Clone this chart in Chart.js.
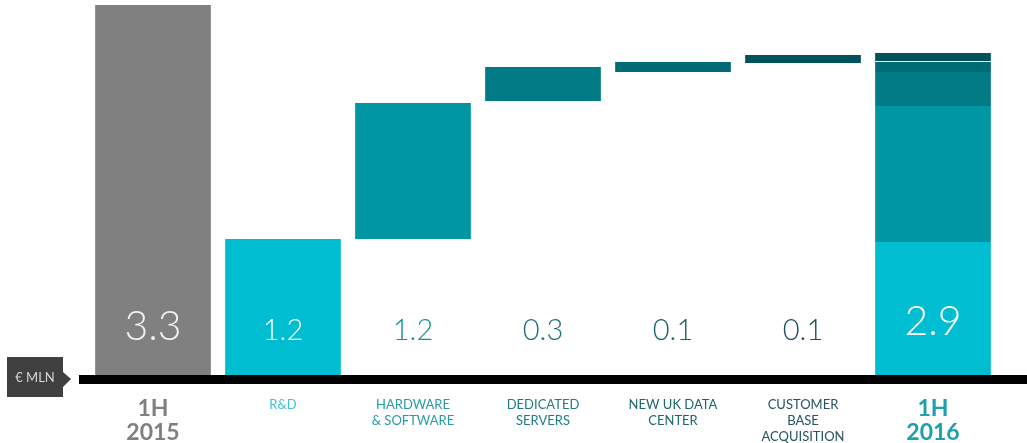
<!DOCTYPE html>
<html>
<head>
<meta charset="utf-8">
<script src="https://cdn.jsdelivr.net/npm/chart.js@4.4.0/dist/chart.umd.min.js"></script>
<style>
  html, body { margin: 0; padding: 0; background: #fff; }
  #wrap { width: 1027px; height: 443px; position: relative; }
</style>
</head>
<body>
<div id="wrap"><canvas id="waterfall"></canvas></div>
<script>
// categories and labels
const categories = ["1H 2015", "R&D", "HARDWARE & SOFTWARE", "DEDICATED SERVERS", "NEW UK DATA CENTER", "CUSTOMER BASE ACQUISITION", "1H 2016"];
const tickLabels = [["1H", "2015"], ["R&D"], ["HARDWARE", "& SOFTWARE"], ["DEDICATED", "SERVERS"], ["NEW UK DATA", "CENTER"], ["CUSTOMER", "BASE", "ACQUISITION"], ["1H", "2016"]];
const valueLabels = ["3.3", "1.2", "1.2", "0.3", "0.1", "0.1", "2.9"];

// bar extents [low, high] (€ mln)
const start2015 = [[0, 3.30], null, null, null, null, null, null];
const rdBars   = [null, [0, 1.213], null, null, null, null, [0, 1.186]];
const hwBars   = [null, null, [1.213, 2.426], null, null, null, [1.186, 2.400]];
const dedBars  = [null, null, null, [2.444, 2.748], null, null, [2.400, 2.703]];
const ukBars   = [null, null, null, null, [2.703, 2.792], null, [2.703, 2.792]];
const custBars = [null, null, null, null, null, [2.783, 2.855], [2.801, 2.873]];

const colGray = "#808080";
const colRd = "#00bdd1";
const colHw = "#0096a4";
const colDed = "#007a85";
const colUk = "#006b75";
const colCust = "#00535d";

const labelColors = ["#808080", "#3fc3d3", "#2a9aa5", "#1f7b84", "#1d6670", "#24545c", "#1aa0ae"];
const valueColors = ["#f2f2f2", "#ffffff", "#12909c", "#1b6f78", "#1b5d66", "#1d4f57", "#ffffff"];

function makeSet(name, data, color) {
    return {
        label: name,
        data: data,
        backgroundColor: color,
        borderWidth: 0,
        grouped: false,
        categoryPercentage: 1,
        barPercentage: 0.89
    };
}

const decorations = {
    id: "decorations",
    beforeDatasetsDraw(chart) {
        const ctx = chart.ctx;
        const y0 = chart.scales.y.getPixelForValue(0);
        // baseline
        ctx.save();
        ctx.fillStyle = "#000";
        ctx.fillRect(79, y0, 948, 9);
        // unit box with arrow
        ctx.fillStyle = "#404040";
        ctx.fillRect(7, y0 - 18, 56, 40);
        ctx.beginPath();
        ctx.moveTo(63, y0 - 3);
        ctx.lineTo(71, y0 + 4);
        ctx.lineTo(63, y0 + 12);
        ctx.closePath();
        ctx.fill();
        ctx.fillStyle = "#d6d6d6";
        ctx.font = "13px Lato";
        ctx.textAlign = "center";
        ctx.textBaseline = "middle";
        ctx.fillText("€ MLN", 35, y0 + 3);
        ctx.restore();
    },
    afterDatasetsDraw(chart) {
        const ctx = chart.ctx;
        const xs = chart.scales.x;
        ctx.save();
        ctx.textAlign = "center";
        ctx.textBaseline = "middle";
        categories.forEach((c, i) => {
            const x = xs.getPixelForValue(i);
            // value labels
            const big = (i === 0 || i === 6);
            ctx.font = big ? "300 41px Lato" : "300 29px Lato";
            ctx.fillStyle = valueColors[i];
            const vy = i === 6 ? 322 : (i === 0 ? 327 : 331);
            ctx.fillText(valueLabels[i], x, vy);
            // category labels
            ctx.fillStyle = labelColors[i];
            const lines = tickLabels[i];
            if (big) {
                ctx.font = "bold 23px Lato";
                lines.forEach((t, j) => ctx.fillText(t, x, 409 + j * 24));
            } else {
                ctx.font = "13px Lato";
                lines.forEach((t, j) => ctx.fillText(t, x, 405 + j * 16));
            }
        });
        ctx.restore();
    }
};

new Chart(document.getElementById("waterfall"), {
    type: "bar",
    data: {
        labels: categories,
        datasets: [
            makeSet("1H 2015", start2015, colGray),
            makeSet("R&D", rdBars, colRd),
            makeSet("Hardware & software", hwBars, colHw),
            makeSet("Dedicated servers", dedBars, colDed),
            makeSet("New UK data center", ukBars, colUk),
            makeSet("Customer base acquisition", custBars, colCust)
        ]
    },
    options: {
        responsive: true,
        maintainAspectRatio: false,
        animation: false,
        layout: { padding: { left: 88, right: 29, top: 5, bottom: 68 } },
        plugins: {
            legend: { display: false },
            tooltip: { enabled: false }
        },
        scales: {
            x: { display: false },
            y: { display: false, min: 0, max: 3.3 }
        }
    },
    plugins: [decorations]
});
</script>
</body>
</html>
